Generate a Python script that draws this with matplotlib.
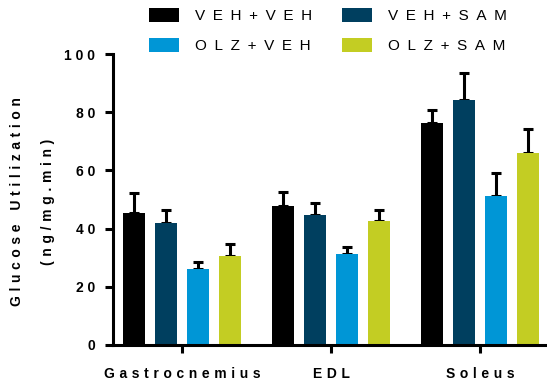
import numpy as np
import matplotlib
matplotlib.use("Agg")
import matplotlib.pyplot as plt

plt.rcParams['font.family'] = ['Liberation Sans', 'DejaVu Sans']

muscles = ["Gastrocnemius", "EDL", "Soleus"]
groups = ["VEH + VEH", "VEH + SAM", "OLZ + VEH", "OLZ + SAM"]
colors = ["#000000", "#003f5f", "#0096d6", "#c3cd23"]

# mean and SEM per group, one value per muscle
means = {
    "VEH + VEH": [45.5, 47.8, 76.3],
    "VEH + SAM": [41.9, 44.7, 84.2],
    "OLZ + VEH": [26.1, 31.3, 51.2],
    "OLZ + SAM": [30.6, 42.6, 66.0],
}
sems = {
    "VEH + VEH": [6.8, 4.8, 4.5],
    "VEH + SAM": [4.5, 4.0, 9.4],
    "OLZ + VEH": [2.4, 2.5, 7.8],
    "OLZ + SAM": [4.2, 3.8, 8.1],
}


def spaced(s, gap=" "):
    # letter-spaced text
    return gap.join(s.replace(" ", ""))


fig = plt.figure(figsize=(5.47, 3.83), dpi=100)
ax = fig.add_axes([112.7 / 547, 38 / 383, 1 - 112.7 / 547, 291 / 383])

centers = np.arange(len(muscles)) * 4.66
width = 0.69
handles = []
for i, g in enumerate(groups):
    x = centers + (i - 1.5)
    b = ax.bar(x, means[g], width, color=colors[i], zorder=2)
    ax.errorbar(x, means[g], yerr=[np.zeros(len(muscles)), sems[g]],
                fmt="none", ecolor="black", elinewidth=2.2, capsize=3.3,
                capthick=2.2, zorder=1)
    handles.append(b)

ax.set_xlim(-2.17, 11.41)
ax.set_ylim(0, 100)
ax.set_yticks([0, 20, 40, 60, 80, 100])
ax.set_yticklabels([spaced(str(v)) for v in [0, 20, 40, 60, 80, 100]],
                   fontsize=10, fontweight="bold")
ax.set_xticks(centers)
ax.set_xticklabels([spaced(m, "\u2004") for m in muscles], fontsize=10,
                   fontweight="bold")

for side in ["top", "right"]:
    ax.spines[side].set_visible(False)
for side in ["left", "bottom"]:
    ax.spines[side].set_linewidth(2.2)
ax.tick_params(axis="y", length=5.8, width=2.2, pad=7)
ax.tick_params(axis="x", length=5.8, width=2.2, pad=10)

sp = "\u2004"
fig.text(17 / 547, 1 - 202 / 383,
         spaced("Glucose", sp) + sp * 3 + spaced("Utilization", sp),
         rotation=90, ha="center", va="center", fontsize=10, fontweight="bold")
fig.text(48 / 547, 1 - 202 / 383, spaced("(ng/mg.min)", sp),
         rotation=90, ha="center", va="center", fontsize=10, fontweight="bold")

order = [0, 2, 1, 3]
fig.legend([handles[k] for k in order],
           [spaced(groups[k], "\u2002") for k in order],
           ncol=2, frameon=False, fontsize=11, loc="upper left",
           bbox_to_anchor=(135 / 547, 1.015), handlelength=2.0, handleheight=1.05,
           handletextpad=1.05, columnspacing=1.9, labelspacing=0.95)

fig.savefig("out.png", dpi=100)
